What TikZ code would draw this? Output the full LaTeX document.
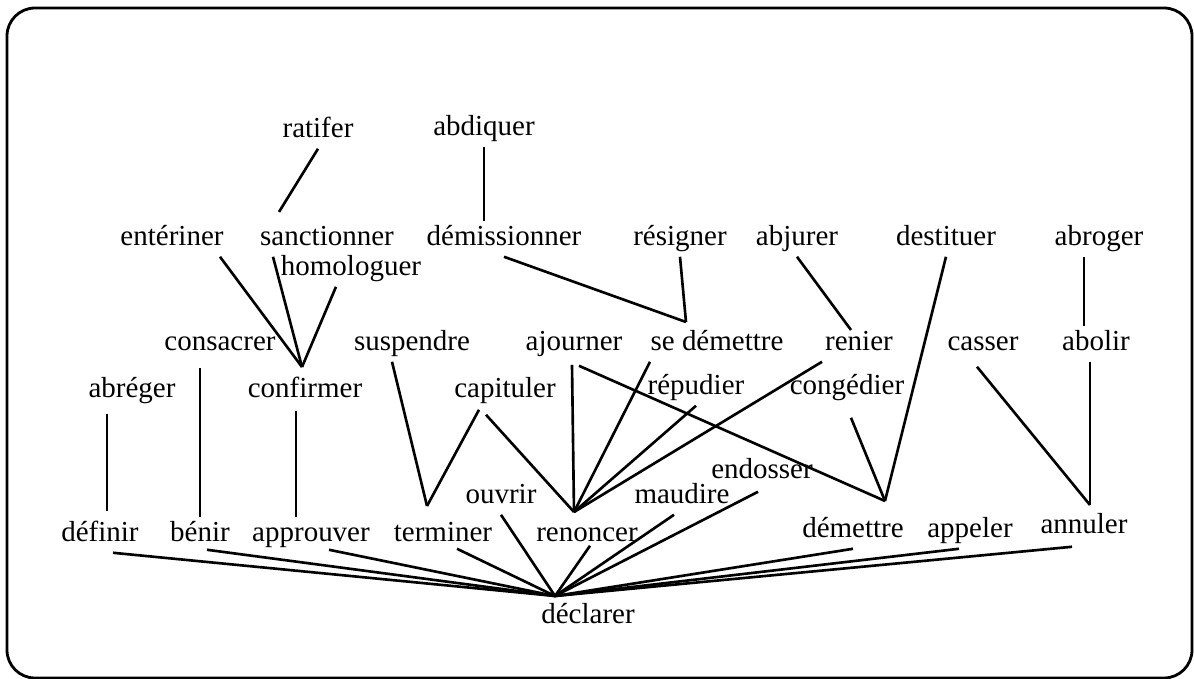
\documentclass[tikz,border=0pt]{standalone}
\usepackage{fontspec}
\setmainfont{Liberation Serif}
\usepackage{tikz}
\usetikzlibrary{calc}

\begin{document}
\begin{tikzpicture}[
    x=0.02cm, y=-0.02cm,
    word/.style={anchor=base, inner sep=2.5pt, text height=11pt, text depth=4pt,
                 font=\fontsize{16.5}{19}\selectfont},
    link/.style={line width=1.5pt},
    frame/.style={line width=1.6pt, rounded corners=0.56cm}
  ]
  \useasboundingbox (0,0) rectangle (1194,679);
  \draw[frame] (7,8) rectangle (1192,678);

  %% Top row
  \node[word] (ratifer)  at (318,137) {ratifer};
  \node[word] (abdiquer) at (484,135) {abdiquer};
  %% Second row
  \node[word] (enteriner)    at (172,245) {entériner};
  \node[word] (sanctionner)  at (327,245) {sanctionner};
  \node[word] (demissionner) at (504,245) {démissionner};
  \node[word] (resigner)     at (680,245) {résigner};
  \node[word] (abjurer)      at (797,245) {abjurer};
  \node[word] (destituer)    at (946,245) {destituer};
  \node[word] (abroger)      at (1099,245) {abroger};
  \node[word] (homologuer)   at (351,275) {homologuer};
  %% Third row
  \node[word] (consacrer)  at (220,350) {consacrer};
  \node[word] (suspendre)  at (412,350) {suspendre};
  \node[word] (ajourner)   at (574,350) {ajourner};
  \node[word] (sedemettre) at (717,350) {se démettre};
  \node[word] (renier)     at (859,350) {renier};
  \node[word] (casser)     at (983,350) {casser};
  \node[word] (abolir)     at (1096,350) {abolir};
  %% Fourth row
  \node[word] (abreger)   at (132,397) {abréger};
  \node[word] (confirmer) at (305,397) {confirmer};
  \node[word] (capituler) at (505,397) {capituler};
  \node[word] (repudier)  at (696,394) {répudier};
  \node[word] (congedier) at (847,394) {congédier};
  \node[word] (endosser)  at (762,478) {endosser};
  \node[word] (ouvrir)    at (501,503) {ouvrir};
  \node[word] (maudire)   at (682,503) {maudire};
  %% Bottom row
  \node[word] (definir)   at (100,541) {définir};
  \node[word] (benir)     at (200,541) {bénir};
  \node[word] (approuver) at (311,541) {approuver};
  \node[word] (terminer)  at (443,541) {terminer};
  \node[word] (renoncer)  at (587,541) {renoncer};
  \node[word] (demettre)  at (853,537) {démettre};
  \node[word] (appeler)   at (970,537) {appeler};
  \node[word] (annuler)   at (1084,533) {annuler};
  \node[word] (declarer)  at (588,623) {déclarer};

  %% Meeting points above the lower words
  \coordinate (confirmer-top)  at (302,367);
  \coordinate (sedemettre-top) at (686,322);
  \coordinate (renier-top)     at (851,330);
  \coordinate (terminer-top)   at (427,506);
  \coordinate (renoncer-top)   at (574,512);
  \coordinate (demettre-top)   at (885,501);
  \coordinate (annuler-top)    at (1090,505);
  \coordinate (declarer-top)   at (555,596);

  %% Upper links
  \draw[link] (ratifer.south) -- ($(sanctionner.north)+(-48,-9)$);
  \draw[link] (abdiquer.south) -- ($(demissionner.north)+(-20,0)$);
  \draw[link] ($(enteriner.south)+(48,0)$) -- (confirmer-top);
  \draw[link] ($(sanctionner.south)+(-54,0)$) -- (confirmer-top);
  \draw[link] ($(homologuer.south)+(-15,0)$) -- (confirmer-top);
  \draw[link] (demissionner.south) -- (sedemettre-top);
  \draw[link] (resigner.south) -- (sedemettre-top);
  \draw[link] (abjurer.south) -- (renier-top);
  \draw[link] (destituer.south) -- (demettre-top);
  \draw[link] ($(abroger.south)+(-15,0)$) -- ($(abolir.north)+(-12,0)$);

  %% Middle links
  \draw[link] ($(consacrer.south)+(-20,6)$) -- (benir.north);
  \draw[link] ($(suspendre.south)+(-20,0)$) -- (terminer-top);
  \draw[link] ($(ajourner.south)+(-2,3)$) -- (renoncer-top);
  \draw[link] ($(ajourner.south)+(5,4)$) -- (demettre-top);
  \draw[link] ($(sedemettre.south)+(-67,0)$) -- (renoncer-top);
  \draw[link] ($(renier.south)+(-37,0)$) -- (renoncer-top);
  \draw[link] ($(casser.south)+(-6,5)$) -- (annuler-top);
  \draw[link] ($(abolir.south)+(-6,0)$) -- (annuler-top);
  \draw[link] ($(abreger.south)+(-25,5)$) -- ($(definir.north)+(7,-6)$);
  \draw[link] ($(confirmer.south)+(-9,2)$) -- ($(approuver.north)+(-15,0)$);
  \draw[link] ($(capituler.south)+(-26,1)$) -- (terminer-top);
  \draw[link] ($(capituler.south)+(-19,6)$) -- (renoncer-top);
  \draw[link] (repudier.south) -- (renoncer-top);
  \draw[link] ($(congedier.south)+(4,12)$) -- (demettre-top);

  %% Everything meets above declarer
  \draw[link] ($(definir.south)+(13,0)$)   -- (declarer-top);
  \draw[link] ($(benir.south)+(7,-3)$)     -- (declarer-top);
  \draw[link] ($(approuver.south)+(18,-3)$) -- (declarer-top);
  \draw[link] ($(terminer.south)+(14,-4)$) -- (declarer-top);
  \draw[link] (ouvrir.south)               -- (declarer-top);
  \draw[link] ($(renoncer.south)+(3,-7)$)  -- (declarer-top);
  \draw[link] ($(maudire.south)+(-8,0)$)   -- (declarer-top);
  \draw[link] ($(endosser.south)+(-4,2)$)  -- (declarer-top);
  \draw[link] (demettre.south)             -- (declarer-top);
  \draw[link] ($(appeler.south)+(-11,0)$)  -- (declarer-top);
  \draw[link] ($(annuler.south)+(-12,2)$)  -- (declarer-top);
\end{tikzpicture}
\end{document}
